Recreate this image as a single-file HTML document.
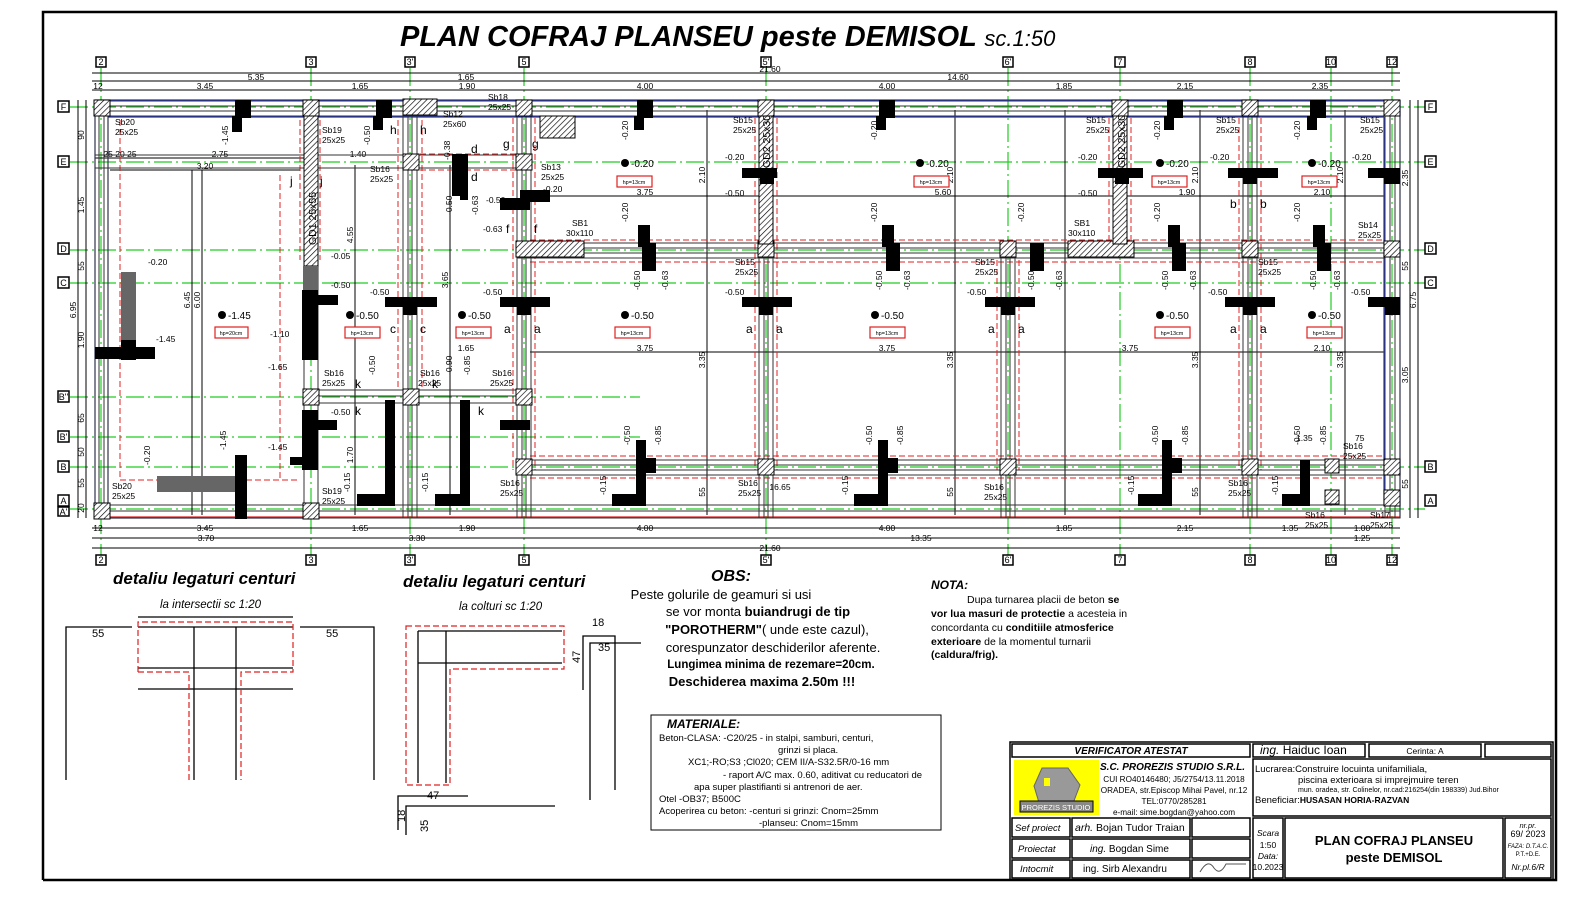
<!DOCTYPE html>
<html><head><meta charset="utf-8"><style>
html,body{margin:0;padding:0;background:#fff;overflow:hidden;width:1596px;height:908px}
svg{display:block}
text{font-family:"Liberation Sans",sans-serif}
</style></head><body>
<svg width="1596" height="908" viewBox="0 0 1596 908" xmlns="http://www.w3.org/2000/svg">
<defs>
<pattern id="h" width="4" height="4" patternUnits="userSpaceOnUse" patternTransform="rotate(45)"><rect width="4" height="4" fill="#fff"/><line x1="0" y1="0" x2="0" y2="4" stroke="#000" stroke-width="1.3"/></pattern>
</defs>
<rect x="0" y="0" width="1596" height="908" fill="#fff"/>
<path d="M43 880 V12 H1556 V880 H43" fill="none" stroke="#000" stroke-width="2.5"/>
<text x="400" y="46" font-size="29" font-weight="bold" font-style="italic">PLAN COFRAJ PLANSEU peste DEMISOL <tspan font-size="22" font-weight="normal">sc.1:50</tspan></text>

<g stroke="#22cc22" stroke-width="1.2" stroke-dasharray="18,4,2,4">
<line x1="101" y1="68" x2="101" y2="555"/><line x1="311" y1="68" x2="311" y2="555"/><line x1="410" y1="68" x2="410" y2="555"/><line x1="524" y1="68" x2="524" y2="555"/><line x1="766" y1="68" x2="766" y2="555"/><line x1="1008" y1="68" x2="1008" y2="555"/><line x1="1120" y1="68" x2="1120" y2="555"/><line x1="1250" y1="68" x2="1250" y2="555"/><line x1="1331" y1="68" x2="1331" y2="555"/><line x1="1392" y1="68" x2="1392" y2="555"/>
<line x1="70" y1="107" x2="1425" y2="107"/><line x1="70" y1="162" x2="1425" y2="162"/><line x1="70" y1="250" x2="1425" y2="250"/><line x1="70" y1="283" x2="1425" y2="283"/><line x1="70" y1="397" x2="640" y2="397"/><line x1="70" y1="437" x2="640" y2="437"/><line x1="70" y1="467" x2="1425" y2="467"/><line x1="70" y1="509" x2="1425" y2="509"/>
</g>
<g font-size="9" text-anchor="middle" fill="#000">
<g stroke="#000" stroke-width="1.5" fill="#fff">
<rect x="96" y="57" width="10" height="10"/><rect x="306" y="57" width="10" height="10"/><rect x="405" y="57" width="10" height="10"/><rect x="519" y="57" width="10" height="10"/><rect x="761" y="57" width="10" height="10"/><rect x="1003" y="57" width="10" height="10"/><rect x="1115" y="57" width="10" height="10"/><rect x="1245" y="57" width="10" height="10"/><rect x="1326" y="57" width="10" height="10"/><rect x="1387" y="57" width="10" height="10"/>
<rect x="96" y="555" width="10" height="10"/><rect x="306" y="555" width="10" height="10"/><rect x="405" y="555" width="10" height="10"/><rect x="519" y="555" width="10" height="10"/><rect x="761" y="555" width="10" height="10"/><rect x="1003" y="555" width="10" height="10"/><rect x="1115" y="555" width="10" height="10"/><rect x="1245" y="555" width="10" height="10"/><rect x="1326" y="555" width="10" height="10"/><rect x="1387" y="555" width="10" height="10"/>
<rect x="58" y="101" width="11" height="11"/><rect x="58" y="156" width="11" height="11"/><rect x="58" y="243" width="11" height="11"/><rect x="58" y="277" width="11" height="11"/><rect x="58" y="391" width="11" height="11"/><rect x="58" y="431" width="11" height="11"/><rect x="58" y="461" width="11" height="11"/><rect x="58" y="495" width="11" height="11"/><rect x="58" y="507" width="11" height="9"/>
<rect x="1425" y="101" width="11" height="11"/><rect x="1425" y="156" width="11" height="11"/><rect x="1425" y="243" width="11" height="11"/><rect x="1425" y="277" width="11" height="11"/><rect x="1425" y="461" width="11" height="11"/><rect x="1425" y="495" width="11" height="11"/>
</g>
<text x="101" y="65">2</text><text x="311" y="65">3</text><text x="410" y="65">3'</text><text x="524" y="65">5</text><text x="766" y="65">5'</text><text x="1008" y="65">6'</text><text x="1120" y="65">7</text><text x="1250" y="65">8</text><text x="1331" y="65">10</text><text x="1392" y="65">12</text>
<text x="101" y="563">2</text><text x="311" y="563">3</text><text x="410" y="563">3'</text><text x="524" y="563">5</text><text x="766" y="563">5'</text><text x="1008" y="563">6'</text><text x="1120" y="563">7</text><text x="1250" y="563">8</text><text x="1331" y="563">10</text><text x="1392" y="563">12</text>
<text x="63.5" y="110">F</text><text x="63.5" y="165">E</text><text x="63.5" y="252">D</text><text x="63.5" y="286">C</text><text x="63.5" y="400">B''</text><text x="63.5" y="440">B'</text><text x="63.5" y="470">B</text><text x="63.5" y="504">A</text><text x="63.5" y="515">A'</text>
<text x="1430.5" y="110">F</text><text x="1430.5" y="165">E</text><text x="1430.5" y="252">D</text><text x="1430.5" y="286">C</text><text x="1430.5" y="470">B</text><text x="1430.5" y="504">A</text>
</g>

<g stroke="#000" stroke-width="1" fill="none">
<line x1="92" y1="73" x2="1400" y2="73"/><line x1="92" y1="81" x2="1400" y2="81"/><line x1="92" y1="90" x2="1400" y2="90"/>
<line x1="92" y1="528" x2="1400" y2="528"/><line x1="92" y1="538" x2="1400" y2="538"/><line x1="92" y1="548" x2="1400" y2="548"/>
<line x1="78" y1="100" x2="78" y2="518"/><line x1="86" y1="100" x2="86" y2="518"/>
<line x1="1410" y1="100" x2="1410" y2="518"/><line x1="1418" y1="100" x2="1418" y2="518"/>
<line x1="95" y1="158" x2="310" y2="158"/><line x1="110" y1="170" x2="300" y2="170"/>
<line x1="530" y1="196" x2="1385" y2="196"/><line x1="530" y1="352" x2="1385" y2="352"/>
<line x1="355" y1="165" x2="355" y2="515"/><line x1="450" y1="165" x2="450" y2="515"/><line x1="192" y1="170" x2="192" y2="515"/><line x1="202" y1="170" x2="202" y2="515"/>
<line x1="707" y1="110" x2="707" y2="515"/><line x1="955" y1="110" x2="955" y2="515"/><line x1="1200" y1="110" x2="1200" y2="515"/><line x1="1345" y1="110" x2="1345" y2="515"/><line x1="1065" y1="110" x2="1065" y2="515"/>
</g>
<g font-size="8.5" fill="#000" text-anchor="middle">
<text x="770" y="72">21.60</text><text x="256" y="80">5.35</text><text x="466" y="80">1.65</text><text x="958" y="80">14.60</text>
<text x="205" y="89">3.45</text><text x="360" y="89">1.65</text><text x="467" y="89">1.90</text><text x="645" y="89">4.00</text><text x="887" y="89">4.00</text><text x="1064" y="89">1.85</text><text x="1185" y="89">2.15</text><text x="1320" y="89">2.35</text><text x="98" y="89">12</text>
<text x="205" y="531">3.45</text><text x="360" y="531">1.65</text><text x="467" y="531">1.90</text><text x="645" y="531">4.00</text><text x="887" y="531">4.00</text><text x="1064" y="531">1.85</text><text x="1185" y="531">2.15</text><text x="1290" y="531">1.35</text><text x="1362" y="531">1.00</text><text x="98" y="531">12</text>
<text x="206" y="541">3.70</text><text x="417" y="541">3.30</text><text x="921" y="541">13.35</text><text x="1362" y="541">1.25</text>
<text x="770" y="551">21.60</text>
<text x="205" y="169">3.20</text><text x="220" y="157">2.75</text><text x="120" y="157">25 20 25</text><text x="358" y="157">1.40</text>
<text x="645" y="195">3.75</text><text x="943" y="195">5.60</text><text x="1187" y="195">1.90</text><text x="1322" y="195">2.10</text>
<text x="645" y="351">3.75</text><text x="887" y="351">3.75</text><text x="1130" y="351">3.75</text><text x="1322" y="351">2.10</text><text x="466" y="351">1.65</text>
<text x="780" y="490">16.65</text>
</g>
<g font-size="8.5" fill="#000" text-anchor="middle">
<text transform="translate(76,310) rotate(-90)">6.95</text><text transform="translate(84,135) rotate(-90)">90</text><text transform="translate(84,205) rotate(-90)">1.45</text><text transform="translate(84,266) rotate(-90)">55</text><text transform="translate(84,340) rotate(-90)">1.90</text><text transform="translate(84,418) rotate(-90)">65</text><text transform="translate(84,452) rotate(-90)">50</text><text transform="translate(84,483) rotate(-90)">55</text><text transform="translate(84,508) rotate(-90)">20</text>
<text transform="translate(1416,300) rotate(-90)">6.75</text><text transform="translate(1408,178) rotate(-90)">2.35</text><text transform="translate(1408,266) rotate(-90)">55</text><text transform="translate(1408,375) rotate(-90)">3.05</text><text transform="translate(1408,484) rotate(-90)">55</text>
<text transform="translate(190,300) rotate(-90)">6.45</text><text transform="translate(200,300) rotate(-90)">6.00</text><text transform="translate(353,235) rotate(-90)">4.55</text><text transform="translate(448,280) rotate(-90)">3.65</text><text transform="translate(353,455) rotate(-90)">1.70</text>
<text transform="translate(705,175) rotate(-90)">2.10</text><text transform="translate(953,175) rotate(-90)">2.10</text><text transform="translate(1198,175) rotate(-90)">2.10</text><text transform="translate(1343,175) rotate(-90)">2.10</text>
<text transform="translate(705,360) rotate(-90)">3.35</text><text transform="translate(953,360) rotate(-90)">3.35</text><text transform="translate(1198,360) rotate(-90)">3.35</text><text transform="translate(1343,360) rotate(-90)">3.35</text>
<text transform="translate(705,492) rotate(-90)">55</text><text transform="translate(953,492) rotate(-90)">55</text><text transform="translate(1198,492) rotate(-90)">55</text>
</g>

<g fill="none" stroke="#e02020" stroke-width="1" stroke-dasharray="6,3">
<line x1="120" y1="120" x2="120" y2="480"/><line x1="280" y1="175" x2="280" y2="480"/><line x1="120" y1="480" x2="300" y2="480"/>
<line x1="300" y1="120" x2="300" y2="260"/><line x1="320" y1="120" x2="320" y2="260"/>
<line x1="398" y1="120" x2="398" y2="390"/><line x1="422" y1="120" x2="422" y2="390"/><line x1="420" y1="170" x2="530" y2="170"/><line x1="420" y1="154" x2="530" y2="154"/>
<line x1="513" y1="118" x2="513" y2="470"/><line x1="535" y1="118" x2="535" y2="470"/>
<line x1="755" y1="118" x2="755" y2="470"/><line x1="777" y1="118" x2="777" y2="470"/>
<line x1="997" y1="260" x2="997" y2="470"/><line x1="1019" y1="260" x2="1019" y2="470"/>
<line x1="1239" y1="118" x2="1239" y2="470"/><line x1="1261" y1="118" x2="1261" y2="470"/>
<line x1="1109" y1="118" x2="1109" y2="258"/><line x1="1131" y1="118" x2="1131" y2="258"/>
<line x1="530" y1="240" x2="1384" y2="240"/><line x1="530" y1="262" x2="1384" y2="262"/>
<line x1="530" y1="456" x2="1384" y2="456"/><line x1="530" y1="478" x2="1384" y2="478"/>
</g>
<line x1="95" y1="517" x2="1400" y2="517" stroke="#e02020" stroke-width="1.2"/>
<g stroke="#2233cc" stroke-width="1.2" fill="none">
<line x1="95" y1="100" x2="1400" y2="100"/><line x1="108" y1="117" x2="1384" y2="117"/><line x1="95" y1="100" x2="95" y2="518"/><line x1="108" y1="117" x2="108" y2="505"/><line x1="1384" y1="117" x2="1384" y2="505"/><line x1="1400" y1="100" x2="1400" y2="518"/><line x1="95" y1="518" x2="310" y2="518"/>
</g>

<g fill="none" stroke="#333" stroke-width="1">
<rect x="95" y="101" width="1305" height="15"/><line x1="95" y1="106" x2="1400" y2="106"/><line x1="95" y1="111" x2="1400" y2="111"/>
<rect x="95" y="505" width="1305" height="13"/><line x1="95" y1="511" x2="1400" y2="511"/>
<rect x="95" y="101" width="13" height="417"/><line x1="99" y1="101" x2="99" y2="518"/><line x1="104" y1="101" x2="104" y2="518"/>
<rect x="1385" y="101" width="15" height="417"/><line x1="1390" y1="101" x2="1390" y2="518"/><line x1="1395" y1="101" x2="1395" y2="518"/>
<rect x="95" y="155" width="435" height="13"/>
<rect x="517" y="243" width="868" height="15"/><line x1="517" y1="248" x2="1385" y2="248"/><line x1="517" y1="253" x2="1385" y2="253"/>
<rect x="517" y="460" width="868" height="15"/><line x1="517" y1="465" x2="1385" y2="465"/><line x1="517" y1="470" x2="1385" y2="470"/>
<rect x="304" y="390" width="226" height="13"/><line x1="304" y1="396" x2="530" y2="396"/>
<rect x="403" y="101" width="14" height="417"/><line x1="408" y1="101" x2="408" y2="518"/><line x1="412" y1="101" x2="412" y2="518"/>
<rect x="517" y="101" width="14" height="417"/><line x1="522" y1="101" x2="522" y2="518"/><line x1="526" y1="101" x2="526" y2="518"/>
<rect x="759" y="101" width="14" height="417"/><line x1="764" y1="101" x2="764" y2="518"/><line x1="768" y1="101" x2="768" y2="518"/>
<rect x="1001" y="243" width="14" height="275"/><line x1="1006" y1="243" x2="1006" y2="518"/><line x1="1010" y1="243" x2="1010" y2="518"/>
<rect x="1243" y="101" width="14" height="417"/><line x1="1248" y1="101" x2="1248" y2="518"/><line x1="1252" y1="101" x2="1252" y2="518"/>
<rect x="304" y="265" width="14" height="253"/>
</g>
<g fill="url(#h)" stroke="#000" stroke-width="1">
<rect x="94" y="100" width="16" height="16"/><rect x="303" y="100" width="16" height="16"/><rect x="403" y="99" width="34" height="16"/><rect x="516" y="100" width="16" height="16"/><rect x="758" y="100" width="16" height="16"/><rect x="1112" y="100" width="16" height="16"/><rect x="1242" y="100" width="16" height="16"/><rect x="1384" y="100" width="16" height="16"/>
<rect x="403" y="154" width="16" height="16"/><rect x="516" y="154" width="16" height="16"/>
<rect x="516" y="241" width="68" height="16"/><rect x="758" y="241" width="16" height="16"/><rect x="1000" y="241" width="16" height="16"/><rect x="1068" y="241" width="66" height="16"/><rect x="1242" y="241" width="16" height="16"/><rect x="1384" y="241" width="16" height="16"/>
<rect x="303" y="389" width="16" height="16"/><rect x="403" y="389" width="16" height="16"/><rect x="516" y="389" width="16" height="16"/>
<rect x="516" y="459" width="16" height="16"/><rect x="758" y="459" width="16" height="16"/><rect x="1000" y="459" width="16" height="16"/><rect x="1242" y="459" width="16" height="16"/><rect x="1384" y="459" width="16" height="16"/><rect x="1325" y="459" width="14" height="14"/>
<rect x="94" y="503" width="16" height="16"/><rect x="303" y="503" width="16" height="16"/><rect x="1325" y="490" width="14" height="14"/><rect x="1384" y="490" width="16" height="16"/>
<rect x="304" y="116" width="14" height="150"/><rect x="1113" y="116" width="14" height="128"/><rect x="759" y="116" width="14" height="128"/>
<rect x="540" y="116" width="35" height="22"/>
</g>
<text transform="translate(316,245) rotate(-90)" font-size="10.5">GD1 25x55</text>
<text transform="translate(770,168) rotate(-90)" font-size="10.5">GD2 25x30</text>
<text transform="translate(1125,168) rotate(-90)" font-size="10.5">GD2 25x30</text>
<g fill="#666">
<rect x="121" y="272" width="15" height="80"/><rect x="157" y="476" width="80" height="16"/><rect x="303" y="266" width="15" height="45"/><rect x="303" y="312" width="15" height="12" fill="#999"/>
</g>
<g fill="#000">
<rect x="235" y="100" width="16" height="18"/><rect x="232" y="116" width="10" height="16"/>
<rect x="376" y="100" width="16" height="18"/><rect x="373" y="116" width="10" height="14"/>
<rect x="637" y="100" width="16" height="18"/><rect x="634" y="116" width="10" height="14"/>
<rect x="879" y="100" width="16" height="18"/><rect x="876" y="116" width="10" height="14"/>
<rect x="1167" y="100" width="16" height="18"/><rect x="1164" y="116" width="10" height="14"/>
<rect x="1310" y="100" width="16" height="18"/><rect x="1307" y="116" width="10" height="14"/>
<rect x="452" y="154" width="16" height="42"/><rect x="460" y="170" width="8" height="30"/>
<rect x="500" y="198" width="30" height="12"/><rect x="520" y="190" width="30" height="12"/>
<rect x="742" y="168" width="35" height="10"/><rect x="760" y="176" width="14" height="8"/>
<rect x="1098" y="168" width="45" height="10"/><rect x="1115" y="176" width="14" height="8"/>
<rect x="1228" y="168" width="50" height="10"/><rect x="1243" y="176" width="14" height="8"/>
<rect x="1368" y="168" width="32" height="10"/><rect x="1384" y="176" width="16" height="8"/>
<rect x="638" y="225" width="12" height="22"/><rect x="642" y="243" width="14" height="28"/>
<rect x="882" y="225" width="12" height="22"/><rect x="886" y="243" width="14" height="28"/>
<rect x="1030" y="243" width="14" height="28"/>
<rect x="1168" y="225" width="12" height="22"/><rect x="1172" y="243" width="14" height="28"/>
<rect x="1313" y="225" width="12" height="22"/><rect x="1317" y="243" width="14" height="28"/>
<rect x="385" y="297" width="52" height="10"/><rect x="403" y="305" width="14" height="10"/>
<rect x="500" y="297" width="50" height="10"/><rect x="517" y="305" width="14" height="10"/>
<rect x="742" y="297" width="50" height="10"/><rect x="759" y="305" width="14" height="10"/>
<rect x="985" y="297" width="50" height="10"/><rect x="1001" y="305" width="14" height="10"/>
<rect x="1225" y="297" width="50" height="10"/><rect x="1243" y="305" width="14" height="10"/>
<rect x="1368" y="297" width="32" height="10"/><rect x="1385" y="305" width="15" height="10"/>
<rect x="302" y="290" width="16" height="70"/><rect x="302" y="295" width="36" height="10"/><rect x="95" y="347" width="60" height="12"/><rect x="121" y="340" width="15" height="20"/>
<rect x="302" y="410" width="16" height="60"/><rect x="302" y="420" width="35" height="10"/><rect x="302" y="455" width="16" height="15"/><rect x="290" y="457" width="26" height="8"/>
<rect x="385" y="400" width="10" height="105"/><rect x="357" y="494" width="38" height="12"/>
<rect x="460" y="400" width="10" height="105"/><rect x="435" y="494" width="35" height="12"/>
<rect x="500" y="420" width="30" height="10"/>
<rect x="636" y="440" width="10" height="65"/><rect x="612" y="494" width="34" height="12"/><rect x="636" y="458" width="20" height="15"/>
<rect x="878" y="440" width="10" height="65"/><rect x="854" y="494" width="34" height="12"/><rect x="878" y="458" width="20" height="15"/>
<rect x="1162" y="440" width="10" height="65"/><rect x="1138" y="494" width="34" height="12"/><rect x="1162" y="458" width="20" height="15"/>
<rect x="1300" y="460" width="10" height="45"/><rect x="1282" y="494" width="28" height="12"/>
<rect x="235" y="455" width="12" height="64"/>
</g>
<g font-size="10" fill="#000">
<circle cx="625" cy="163" r="4"/><text x="631" y="167">-0.20</text><circle cx="920" cy="163" r="4"/><text x="926" y="167">-0.20</text><circle cx="1160" cy="163" r="4"/><text x="1166" y="167">-0.20</text><circle cx="1312" cy="163" r="4"/><text x="1318" y="167">-0.20</text>
<circle cx="222" cy="315" r="4"/><text x="228" y="319">-1.45</text><circle cx="350" cy="315" r="4"/><text x="356" y="319">-0.50</text><circle cx="462" cy="315" r="4"/><text x="468" y="319">-0.50</text><circle cx="625" cy="315" r="4"/><text x="631" y="319">-0.50</text><circle cx="875" cy="315" r="4"/><text x="881" y="319">-0.50</text><circle cx="1160" cy="315" r="4"/><text x="1166" y="319">-0.50</text><circle cx="1312" cy="315" r="4"/><text x="1318" y="319">-0.50</text>
</g>
<g fill="#fff" stroke="#e02020" stroke-width="1.2">
<rect x="617" y="176" width="35" height="11"/><rect x="914" y="176" width="35" height="11"/><rect x="1152" y="176" width="35" height="11"/><rect x="1302" y="176" width="35" height="11"/>
<rect x="215" y="327" width="33" height="11"/><rect x="345" y="327" width="35" height="11"/><rect x="456" y="327" width="35" height="11"/><rect x="615" y="327" width="35" height="11"/><rect x="870" y="327" width="35" height="11"/><rect x="1155" y="327" width="35" height="11"/><rect x="1307" y="327" width="35" height="11"/>
</g>
<g font-size="5.5" fill="#000" text-anchor="middle">
<text x="634" y="184">hp=13cm</text><text x="931" y="184">hp=13cm</text><text x="1169" y="184">hp=13cm</text><text x="1319" y="184">hp=13cm</text>
<text x="231" y="335">hp=20cm</text><text x="362" y="335">hp=13cm</text><text x="473" y="335">hp=13cm</text><text x="632" y="335">hp=13cm</text><text x="887" y="335">hp=13cm</text><text x="1172" y="335">hp=13cm</text><text x="1324" y="335">hp=13cm</text>
</g>
<g font-size="8.5" fill="#000">
<text x="115" y="125">Sb20</text><text x="115" y="135">25x25</text><text x="322" y="133">Sb19</text><text x="322" y="143">25x25</text><text x="443" y="117">Sb12</text><text x="443" y="127">25x60</text><text x="488" y="100">Sb18</text><text x="488" y="110">25x25</text>
<text x="370" y="172">Sb16</text><text x="370" y="182">25x25</text><text x="541" y="170">Sb13</text><text x="541" y="180">25x25</text><text x="572" y="226">SB1</text><text x="566" y="236">30x110</text><text x="1074" y="226">SB1</text><text x="1068" y="236">30x110</text>
<text x="733" y="123">Sb15</text><text x="733" y="133">25x25</text><text x="1086" y="123">Sb15</text><text x="1086" y="133">25x25</text><text x="1216" y="123">Sb15</text><text x="1216" y="133">25x25</text><text x="1360" y="123">Sb15</text><text x="1360" y="133">25x25</text>
<text x="735" y="265">Sb15</text><text x="735" y="275">25x25</text><text x="975" y="265">Sb15</text><text x="975" y="275">25x25</text><text x="1258" y="265">Sb15</text><text x="1258" y="275">25x25</text><text x="1358" y="228">Sb14</text><text x="1358" y="238">25x25</text>
<text x="324" y="376">Sb16</text><text x="322" y="386">25x25</text><text x="420" y="376">Sb16</text><text x="418" y="386">25x25</text><text x="492" y="376">Sb16</text><text x="490" y="386">25x25</text>
<text x="500" y="486">Sb16</text><text x="500" y="496">25x25</text><text x="738" y="486">Sb16</text><text x="738" y="496">25x25</text><text x="984" y="490">Sb16</text><text x="984" y="500">25x25</text><text x="1228" y="486">Sb16</text><text x="1228" y="496">25x25</text>
<text x="112" y="489">Sb20</text><text x="112" y="499">25x25</text><text x="322" y="494">Sb19</text><text x="322" y="504">25x25</text><text x="1343" y="449">Sb16</text><text x="1343" y="459">25x25</text><text x="1305" y="518">Sb16</text><text x="1305" y="528">25x25</text><text x="1370" y="518">Sb17</text><text x="1370" y="528">25x25</text>
<text x="148" y="265">-0.20</text><text x="156" y="342">-1.45</text><text x="270" y="337">-1.10</text><text x="268" y="370">-1.65</text><text x="268" y="450">-1.45</text><text x="331" y="259">-0.05</text><text x="331" y="288">-0.50</text><text x="370" y="295">-0.50</text><text x="483" y="295">-0.50</text><text x="725" y="295">-0.50</text><text x="967" y="295">-0.50</text><text x="1208" y="295">-0.50</text><text x="1351" y="295">-0.50</text><text x="331" y="415">-0.50</text><text x="543" y="192">-0.20</text><text x="486" y="203">-0.50</text><text x="483" y="232">-0.63</text>
<text x="725" y="160">-0.20</text><text x="725" y="196">-0.50</text><text x="1078" y="160">-0.20</text><text x="1078" y="196">-0.50</text><text x="1210" y="160">-0.20</text><text x="1352" y="160">-0.20</text><text x="1296" y="441">1.35</text><text x="1355" y="441">75</text>
</g>
<g font-size="12" fill="#000">
<text x="390" y="134">h</text><text x="420" y="134">h</text><text x="471" y="153">d</text><text x="471" y="181">d</text><text x="503" y="148">g</text><text x="532" y="148">g</text><text x="506" y="233">f</text><text x="534" y="233">f</text>
<text x="390" y="333">c</text><text x="420" y="333">c</text><text x="504" y="333">a</text><text x="534" y="333">a</text><text x="746" y="333">a</text><text x="776" y="333">a</text><text x="988" y="333">a</text><text x="1018" y="333">a</text><text x="1230" y="333">a</text><text x="1260" y="333">a</text>
<text x="1230" y="208">b</text><text x="1260" y="208">b</text><text x="290" y="185">j</text><text x="320" y="185">j</text>
<text x="355" y="388">k</text><text x="432" y="388">k</text><text x="355" y="415">k</text><text x="478" y="415">k</text>
</g>
<g font-size="8.5" fill="#000">
<text transform="translate(228,145) rotate(-90)">-1.45</text><text transform="translate(370,145) rotate(-90)">-0.50</text><text transform="translate(628,140) rotate(-90)">-0.20</text><text transform="translate(877,140) rotate(-90)">-0.20</text><text transform="translate(1160,140) rotate(-90)">-0.20</text><text transform="translate(1300,140) rotate(-90)">-0.20</text>
<text transform="translate(628,222) rotate(-90)">-0.20</text><text transform="translate(877,222) rotate(-90)">-0.20</text><text transform="translate(1024,222) rotate(-90)">-0.20</text><text transform="translate(1160,222) rotate(-90)">-0.20</text><text transform="translate(1300,222) rotate(-90)">-0.20</text>
<text transform="translate(640,290) rotate(-90)">-0.50</text><text transform="translate(668,290) rotate(-90)">-0.63</text><text transform="translate(882,290) rotate(-90)">-0.50</text><text transform="translate(910,290) rotate(-90)">-0.63</text><text transform="translate(1034,290) rotate(-90)">-0.50</text><text transform="translate(1062,290) rotate(-90)">-0.63</text><text transform="translate(1168,290) rotate(-90)">-0.50</text><text transform="translate(1196,290) rotate(-90)">-0.63</text><text transform="translate(1316,290) rotate(-90)">-0.50</text><text transform="translate(1340,290) rotate(-90)">-0.63</text>
<text transform="translate(630,445) rotate(-90)">-0.50</text><text transform="translate(661,445) rotate(-90)">-0.85</text><text transform="translate(872,445) rotate(-90)">-0.50</text><text transform="translate(903,445) rotate(-90)">-0.85</text><text transform="translate(1158,445) rotate(-90)">-0.50</text><text transform="translate(1188,445) rotate(-90)">-0.85</text><text transform="translate(1300,445) rotate(-90)">-0.50</text><text transform="translate(1326,445) rotate(-90)">-0.85</text>
<text transform="translate(606,495) rotate(-90)">-0.15</text><text transform="translate(848,495) rotate(-90)">-0.15</text><text transform="translate(1134,495) rotate(-90)">-0.15</text><text transform="translate(1278,495) rotate(-90)">-0.15</text><text transform="translate(350,492) rotate(-90)">-0.15</text><text transform="translate(428,492) rotate(-90)">-0.15</text>
<text transform="translate(150,465) rotate(-90)">-0.20</text><text transform="translate(226,450) rotate(-90)">-1.45</text><text transform="translate(375,375) rotate(-90)">-0.50</text><text transform="translate(452,375) rotate(-90)">-0.90</text><text transform="translate(470,375) rotate(-90)">-0.85</text>
<text transform="translate(450,160) rotate(-90)">-0.38</text><text transform="translate(452,215) rotate(-90)">-0.50</text><text transform="translate(478,215) rotate(-90)">-0.63</text>
</g>

<!-- detail 1 -->
<text x="113" y="584" font-size="17" font-weight="bold" font-style="italic">detaliu legaturi centuri</text>
<text x="160" y="608" font-size="11.5" font-style="italic">la intersectii sc 1:20</text>
<g stroke="#000" stroke-width="1.3" fill="none">
<path d="M66 780 V627 H132"/><path d="M374 780 V627 H300"/>
<line x1="138" y1="617" x2="293" y2="617"/>
<line x1="138" y1="627" x2="293" y2="627"/><line x1="138" y1="668" x2="293" y2="668"/><line x1="138" y1="689" x2="293" y2="689"/>
<line x1="194" y1="627" x2="194" y2="780"/><line x1="236" y1="627" x2="236" y2="780"/>
</g>
<g fill="none" stroke="#e02020" stroke-dasharray="6,3" stroke-width="1.2">
<path d="M138 672 V622 H293 V672 H241 V780"/>
<path d="M138 672 H189 V780"/>
</g>
<g font-size="11"><text x="92" y="637">55</text><text x="326" y="637">55</text></g>
<!-- detail 2 -->
<text x="403" y="587" font-size="17" font-weight="bold" font-style="italic">detaliu legaturi centuri</text>
<text x="459" y="610" font-size="11.5" font-style="italic">la colturi sc 1:20</text>
<g stroke="#000" stroke-width="1.3" fill="none">
<line x1="418" y1="631" x2="562" y2="631"/><line x1="418" y1="663" x2="562" y2="663"/>
<line x1="418" y1="631" x2="418" y2="783"/><line x1="446" y1="631" x2="446" y2="783"/>
<path d="M583 690 V636 H615 V790"/><path d="M590 800 V643 H641"/>
<path d="M398 830 V796 H468"/><path d="M406 835 V806 H555"/>
</g>
<path d="M406 626 H564 V669 H450 V785 H406 Z" fill="none" stroke="#e02020" stroke-dasharray="6,3" stroke-width="1.2"/>
<g font-size="11"><text x="592" y="626">18</text><text x="598" y="651">35</text><text transform="translate(580,663) rotate(-90)">47</text><text x="427" y="799">47</text><text transform="translate(405,822) rotate(-90)">18</text><text transform="translate(428,832) rotate(-90)">35</text></g>

<!-- OBS -->
<text x="711" y="581" font-size="16" font-weight="bold" font-style="italic">OBS:</text>
<g font-size="13" text-anchor="middle">
<text x="721" y="599">Peste golurile de geamuri si usi</text>
<text x="758" y="616">se vor monta <tspan font-weight="bold">buiandrugi de tip</tspan></text>
<text x="767" y="634"><tspan font-weight="bold">"POROTHERM"</tspan>( unde este cazul),</text>
<text x="773" y="652">corespunzator deschiderilor aferente.</text>
<text x="771" y="668" font-size="11.5" font-weight="bold">Lungimea minima de rezemare=20cm.</text>
<text x="762" y="686" font-weight="bold">Deschiderea maxima 2.50m !!!</text>
</g>
<text x="931" y="589" font-size="12" font-weight="bold" font-style="italic">NOTA:</text>
<g font-size="10.5"><text x="967" y="603">Dupa turnarea placii de beton <tspan font-weight="bold">se</tspan></text>
<text x="931" y="617"><tspan font-weight="bold">vor lua masuri de protectie</tspan> a acesteia in</text>
<text x="931" y="631">concordanta cu <tspan font-weight="bold">conditiile atmosferice</tspan></text>
<text x="931" y="645"><tspan font-weight="bold">exterioare</tspan> de la momentul turnarii</text>
<text x="931" y="658" font-weight="bold">(caldura/frig).</text></g>
<rect x="651" y="715" width="290" height="115" fill="none" stroke="#000" stroke-width="1"/>
<text x="667" y="728" font-size="12" font-weight="bold" font-style="italic">MATERIALE:</text>
<g font-size="9.5"><text x="659" y="741">Beton-CLASA:  -C20/25 - in stalpi, samburi, centuri,</text>
<text x="778" y="753">grinzi si placa.</text>
<text x="688" y="765">XC1;-RO;S3 ;Cl020; CEM II/A-S32.5R/0-16 mm</text>
<text x="723" y="778">- raport A/C max. 0.60, aditivat cu reducatori de</text>
<text x="694" y="790">apa super plastifianti si antrenori de aer.</text>
<text x="659" y="802">Otel -OB37;  B500C</text>
<text x="659" y="814">Acoperirea cu beton: -centuri si grinzi: Cnom=25mm</text>
<text x="759" y="826">-planseu: Cnom=15mm</text></g>

<!-- title block -->
<g fill="none" stroke="#000" stroke-width="1.5">
<rect x="1010" y="742" width="543" height="138"/>
<rect x="1012" y="744" width="238" height="13"/><rect x="1253" y="744" width="112" height="13"/><rect x="1369" y="744" width="112" height="13"/><rect x="1485" y="744" width="66" height="13"/>
<rect x="1253" y="759" width="298" height="57"/>
<rect x="1012" y="818" width="58" height="19"/><rect x="1072" y="818" width="118" height="19"/><rect x="1192" y="818" width="58" height="19"/>
<rect x="1012" y="839" width="58" height="19"/><rect x="1072" y="839" width="118" height="19"/><rect x="1192" y="839" width="58" height="19"/>
<rect x="1012" y="860" width="58" height="18"/><rect x="1072" y="860" width="118" height="18"/><rect x="1192" y="860" width="58" height="18"/>
<rect x="1253" y="818" width="30" height="60"/><rect x="1285" y="818" width="218" height="60"/><rect x="1505" y="818" width="46" height="60"/>
</g>
<rect x="1014" y="760" width="85" height="55" fill="#ffff00"/>
<polygon points="1042,768 1068,768 1080,785 1072,806 1040,806 1034,786" fill="#999" stroke="#666"/>
<rect x="1044" y="778" width="6" height="8" fill="#ffff00"/>
<rect x="1020" y="801" width="73" height="11" fill="#888" stroke="#000"/>
<text x="1056" y="810" font-size="7.5" fill="#fff" text-anchor="middle">PROREZIS STUDIO</text>
<g fill="#000">
<text x="1131" y="754" font-size="10" font-weight="bold" font-style="italic" text-anchor="middle">VERIFICATOR  ATESTAT</text>
<text x="1260" y="754" font-size="12" font-family="Liberation Serif"><tspan font-style="italic">ing.</tspan> Haiduc Ioan</text>
<text x="1425" y="754" font-size="8.5" text-anchor="middle">Cerinta: A</text>
<text x="1100" y="770" font-size="10" font-weight="bold" font-style="italic">S.C. PROREZIS STUDIO S.R.L.</text>
<g font-size="8.2" text-anchor="middle"><text x="1174" y="782">CUI RO40146480; J5/2754/13.11.2018</text><text x="1174" y="793">ORADEA, str.Episcop Mihai Pavel, nr.12</text><text x="1174" y="804">TEL:0770/285281</text><text x="1174" y="815">e-mail: sime.bogdan@yahoo.com</text></g>
<text x="1255" y="772" font-size="9.5">Lucrarea:Construire locuinta unifamiliala,</text>
<text x="1298" y="783" font-size="9.5">piscina exterioara si imprejmuire teren</text>
<text x="1298" y="792" font-size="7">mun. oradea, str. Colinelor, nr.cad:216254(din 198339) Jud.Bihor</text>
<text x="1255" y="803" font-size="9.5">Beneficiar:<tspan font-weight="bold" font-size="8.5">HUSASAN HORIA-RAZVAN</tspan></text>
<g font-size="9.5" font-style="italic"><text x="1015" y="831">Sef proiect</text><text x="1018" y="852">Proiectat</text><text x="1020" y="872">Intocmit</text></g>
<text x="1075" y="831" font-size="10.5" font-family="Liberation Serif"><tspan font-style="italic">arh.</tspan> Bojan Tudor Traian</text>
<text x="1090" y="852" font-size="10"><tspan font-style="italic">ing.</tspan> Bogdan Sime</text>
<text x="1083" y="872" font-size="10">ing. Sirb Alexandru</text>
<path d="M1200 872 q8 -14 14 -4 q6 8 12 -4 h20" fill="none" stroke="#555" stroke-width="1"/>
<g font-size="8.5" font-family="Liberation Serif" text-anchor="middle"><text x="1268" y="836" font-style="italic">Scara</text><text x="1268" y="848">1:50</text><text x="1268" y="859" font-style="italic">Data:</text><text x="1268" y="870">10.2023</text></g>
<text x="1394" y="845" font-size="13" font-weight="bold" text-anchor="middle">PLAN COFRAJ PLANSEU</text>
<text x="1394" y="862" font-size="13" font-weight="bold" text-anchor="middle">peste DEMISOL</text>
<g font-size="7.5" font-family="Liberation Serif" text-anchor="middle"><text x="1528" y="828" font-style="italic">nr.pr.</text><text x="1528" y="837" font-size="9">69/ 2023</text><text x="1528" y="848" font-size="6" font-style="italic">FAZA: D.T.A.C.</text><text x="1528" y="856" font-size="6">P.T.+D.E.</text><text x="1528" y="870" font-size="8.5" font-style="italic">Nr.pl.6/R</text></g>
</g>
</svg>
</body></html>
